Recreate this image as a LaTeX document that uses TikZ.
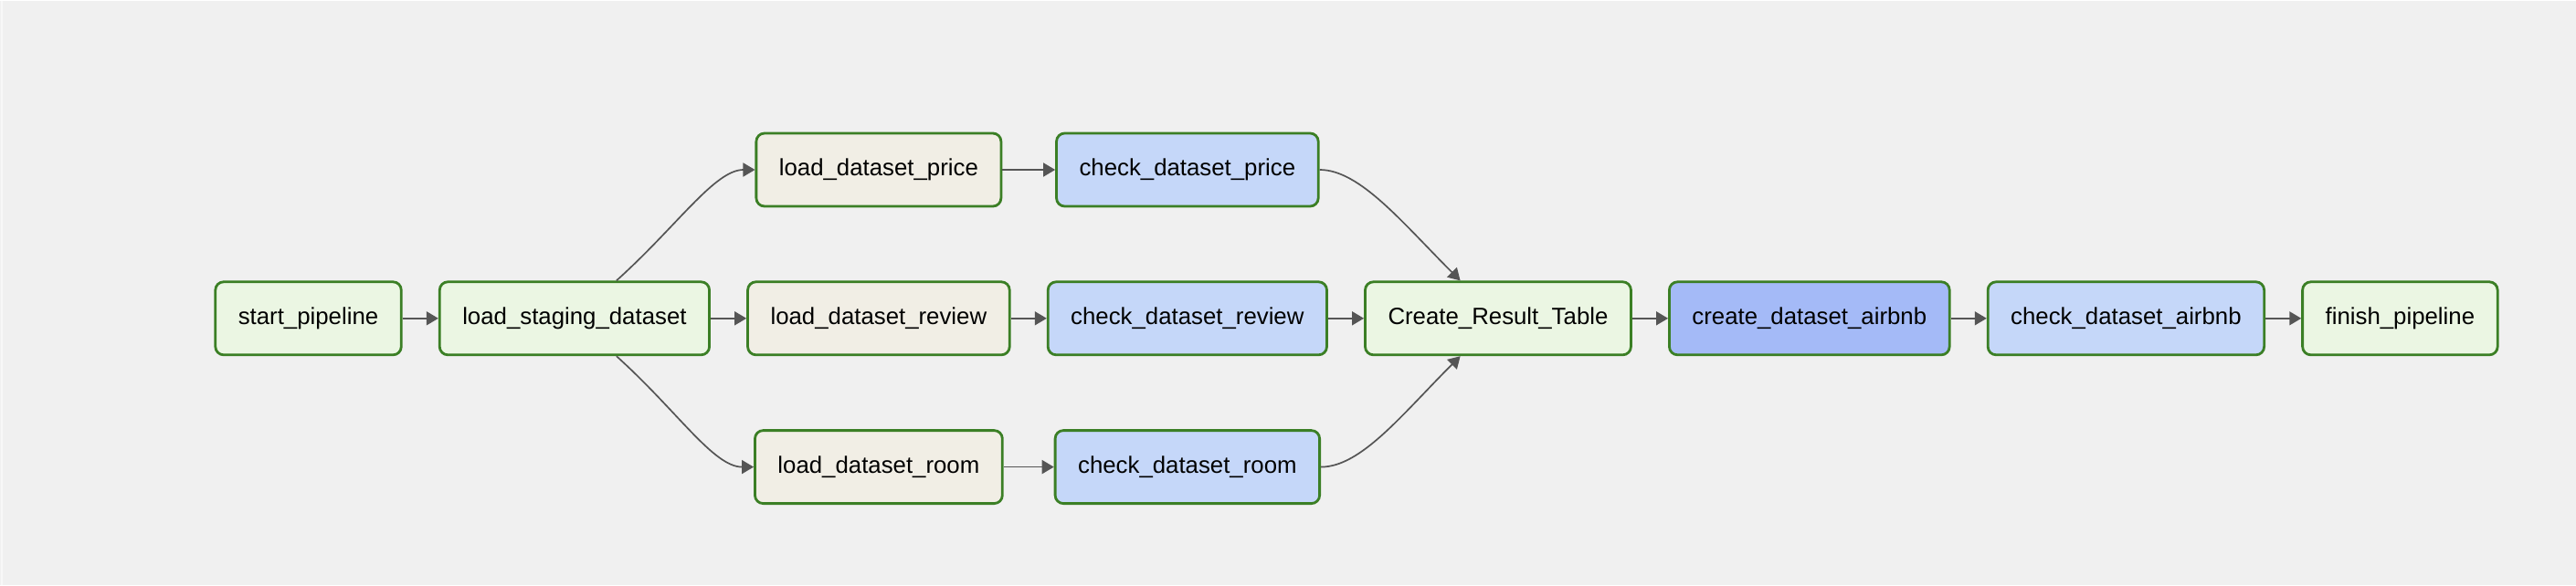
\documentclass[tikz,border=0pt]{standalone}
\usepackage{fontspec}
\setmainfont{Liberation Sans}
\usetikzlibrary{matrix,
	positioning,
	calc,
	arrows.meta}
\definecolor{dagbg}{HTML}{F0F0F0}
\definecolor{okgreen}{HTML}{3B7F25}
\definecolor{dmfill}{HTML}{EBF6E3}
\definecolor{ldfill}{HTML}{F1EEE5}
\definecolor{ckfill}{HTML}{C5D7F9}
\definecolor{mkfill}{HTML}{A4BAF7}
\definecolor{depgray}{HTML}{555555}
\tikzstyle{task}=[draw=okgreen, line width=1.4pt, rounded corners=4.5pt,
		minimum height=40pt, inner xsep=12.5pt, inner ysep=0pt,
		font=\fontsize{12.9}{15}\selectfont]
\tikzstyle{dm}=[task, fill=dmfill]
\tikzstyle{ld}=[task, fill=ldfill]
\tikzstyle{ck}=[task, fill=ckfill]
\tikzstyle{mk}=[task, fill=mkfill]
\tikzstyle{dag}=[column sep=19.6pt, row sep=40pt, inner sep=0pt, ampersand
		replacement=\&]
\tikzstyle{dep}=[draw=depgray, line width=0.85pt, -{Triangle[length=6.5pt, width=7.5pt]}]

\begin{document}
\begin{tikzpicture}
            \fill[dagbg] (0,0) rectangle (1410pt,-320pt);
            \draw[white!55!dagbg, line width=0.8pt] (1pt,0) -- (1pt,-320pt);
            \useasboundingbox (0,0) rectangle (1410pt,-320pt);
            \matrix (pipe) [dag, matrix anchor=west] at (117pt,-174pt) {
                \& \& \node[ld] (ldprice) {load\_dataset\_price}; \& \node[ck] (ckprice) {check\_dataset\_price}; \& \& \& \& \\
                \node[dm] (start) {start\_pipeline}; \& \node[dm] (staging) {load\_staging\_dataset}; \& \node[ld] (ldreview) {load\_dataset\_review}; \& \node[ck] (ckreview) {check\_dataset\_review}; \& \node[dm] (result) {Create\_Result\_Table}; \& \node[mk] (mkairbnb) {create\_dataset\_airbnb}; \& \node[ck] (ckairbnb) {check\_dataset\_airbnb}; \& \node[dm] (finish) {finish\_pipeline}; \\
                \& \& \node[ld] (ldroom) {load\_dataset\_room}; \& \node[ck] (ckroom) {check\_dataset\_room}; \& \& \& \& \\
            };
            % dependencies
            \draw[dep] (start) -- (staging);
            \draw[dep] (staging) to[out=42, in=180, out distance=45pt, in distance=22pt] (ldprice);
            \draw[dep] (staging) -- (ldreview);
            \draw[dep] (staging) to[out=-42, in=180, out distance=45pt, in distance=22pt] (ldroom);
            \draw[dep] (ldprice) -- (ckprice);
            \draw[dep] (ldreview) -- (ckreview);
            \draw[dep] (ldroom) -- (ckroom);
            \draw[dep] (ckprice) to[out=0, in=135, out distance=22pt, in distance=45pt] (result);
            \draw[dep] (ckreview) -- (result);
            \draw[dep] (ckroom) to[out=0, in=-135, out distance=22pt, in distance=45pt] (result);
            \draw[dep] (result) -- (mkairbnb);
            \draw[dep] (mkairbnb) -- (ckairbnb);
            \draw[dep] (ckairbnb) -- (finish);
        \end{tikzpicture}
\end{document}
